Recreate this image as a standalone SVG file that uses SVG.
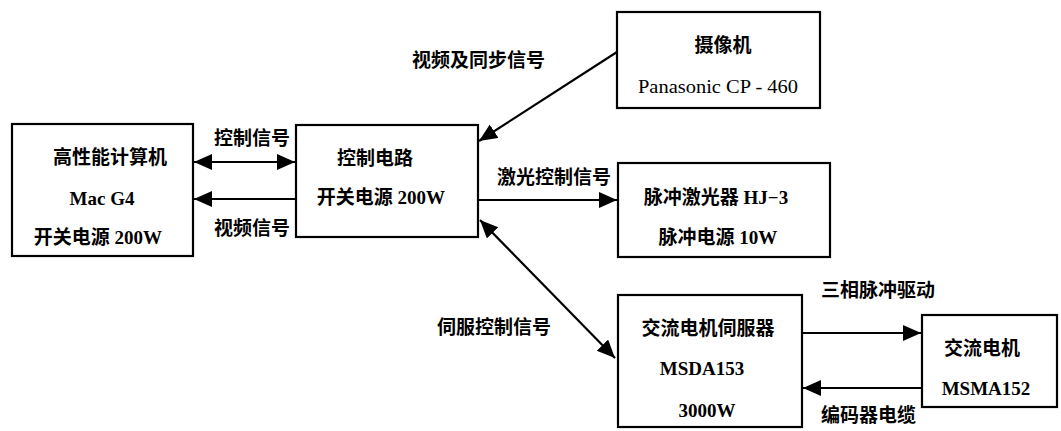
<svg xmlns="http://www.w3.org/2000/svg" width="1061" height="431" viewBox="0 0 1061 431">
<style>
.box{fill:#fff;stroke:#000;stroke-width:2.2}
.t{font-family:"Liberation Serif","Noto Sans CJK SC",serif;font-size:19px;font-weight:bold;fill:#000;text-anchor:middle}
.l{font-family:"Liberation Serif","Noto Sans CJK SC",serif;font-size:19px;font-weight:bold;fill:#000}
.n{font-weight:normal}
.c{stroke:#000;stroke-width:2.2;fill:none}
</style>
<defs>
<marker id="ah" markerUnits="userSpaceOnUse" markerWidth="20" markerHeight="18" refX="18" refY="8" orient="auto-start-reverse">
<path d="M0,0 L18,8 L0,16 z" fill="#000"/>
</marker>
</defs>
<rect width="1061" height="431" fill="#fff"/>
<g id="connectors">
<line class="c" x1="194" y1="162" x2="295" y2="162" marker-start="url(#ah)" marker-end="url(#ah)"/>
<line class="c" x1="296" y1="199" x2="194" y2="199" marker-end="url(#ah)"/>
<line class="c" x1="617" y1="52" x2="479" y2="141" marker-end="url(#ah)"/>
<line class="c" x1="478" y1="200" x2="617" y2="200" marker-end="url(#ah)"/>
<line class="c" x1="480" y1="220" x2="615" y2="358" marker-start="url(#ah)" marker-end="url(#ah)"/>
<line class="c" x1="802" y1="333" x2="921" y2="333" marker-end="url(#ah)"/>
<line class="c" x1="922" y1="388" x2="803" y2="388" marker-end="url(#ah)"/>
<text class="l" x="214" y="145">控制信号</text>
<text class="l" x="214" y="235">视频信号</text>
<text class="l" x="412" y="67">视频及同步信号</text>
<text class="l" x="497" y="184">激光控制信号</text>
<text class="l" x="437" y="334">伺服控制信号</text>
<text class="l" x="821" y="297">三相脉冲驱动</text>
<text class="l" x="821" y="422">编码器电缆</text>
</g>
<g id="computer">
<rect class="box" x="12" y="124" width="181" height="132"/>
<text class="t" x="110" y="164">高性能计算机</text>
<text class="t" x="102" y="205">Mac G4</text>
<text class="t" x="98" y="244">开关电源 200W</text>
</g>
<g id="control">
<rect class="box" x="296" y="125" width="182" height="112"/>
<text class="t" x="375" y="165">控制电路</text>
<text class="t" x="381" y="204">开关电源 200W</text>
</g>
<g id="camera">
<rect class="box" x="617" y="12" width="203" height="96"/>
<text class="t" x="723" y="52">摄像机</text>
<text class="t n" x="718" y="93" textLength="160" lengthAdjust="spacingAndGlyphs">Panasonic CP - 460</text>
</g>
<g id="laser">
<rect class="box" x="618" y="163" width="212" height="94"/>
<text class="t" x="716" y="204">脉冲激光器 HJ−3</text>
<text class="t" x="718" y="244">脉冲电源 10W</text>
</g>
<g id="servo">
<rect class="box" x="618" y="295" width="184" height="132"/>
<text class="t" x="708" y="335">交流电机伺服器</text>
<text class="t" x="702" y="375">MSDA153</text>
<text class="t" x="707" y="417">3000W</text>
</g>
<g id="motor">
<rect class="box" x="922" y="315" width="135" height="92"/>
<text class="t" x="982" y="355">交流电机</text>
<text class="t" x="986" y="395">MSMA152</text>
</g>
</svg>
